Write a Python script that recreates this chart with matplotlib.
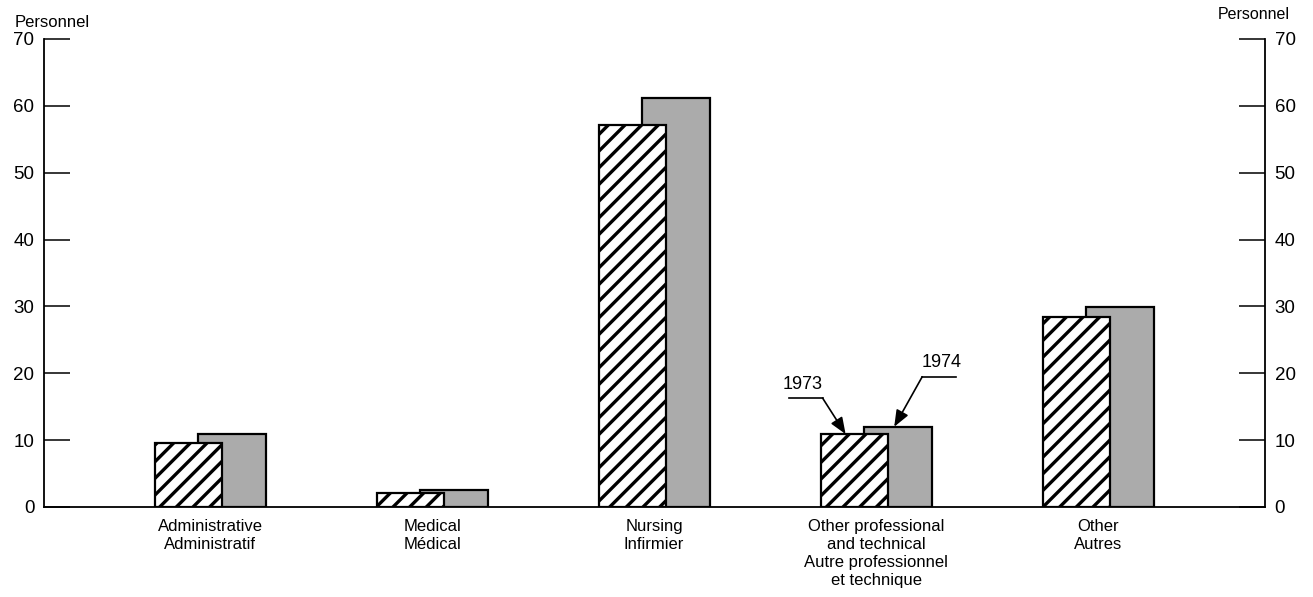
import matplotlib
matplotlib.use("Agg")
import matplotlib.pyplot as plt
import numpy as np

plt.rcParams['font.family'] = ['Liberation Sans', 'DejaVu Sans']
plt.rcParams['hatch.linewidth'] = 2.4

categories = [
    "Administrative\nAdministratif",
    "Medical\nMédical",
    "Nursing\nInfirmier",
    "Other professional\nand technical\nAutre professionnel\net technique",
    "Other\nAutres",
]
staff_1973 = [9.6, 2.1, 57.2, 10.9, 28.4]
staff_1974 = [10.9, 2.6, 61.1, 12.0, 29.9]
yticks = [0, 10, 20, 30, 40, 50, 60, 70]

fig = plt.figure(figsize=(13.13, 5.97), dpi=100)
ax = fig.add_axes([0.0335, 0.1508, 0.9299, 0.7839])

x = np.arange(len(categories))
width = 0.306
shift = 0.097

# 1974 drawn first so the hatched 1973 bar overlaps it
ax.bar(x + shift, staff_1974, width, color="#ababab", edgecolor="black",
       linewidth=1.6, zorder=2)
ax.bar(x - shift, staff_1973, width, color="white", edgecolor="black",
       hatch="//", linewidth=1.6, zorder=3)

ax.set_xlim(-0.748, 4.752)
ax.set_ylim(0, 70)
ax.set_yticks(yticks)
ax.set_xticks(x)
ax.set_xticklabels(categories, fontsize=12, linespacing=1.25)

ax.spines["top"].set_visible(False)
for side in ("left", "right", "bottom"):
    ax.spines[side].set_linewidth(1.3)

ax.tick_params(axis="x", length=0, pad=9)
ax.tick_params(axis="y", direction="in", length=18.5, width=1.1,
               labelsize=13.5, pad=7, left=True, right=True,
               labelleft=True, labelright=True)

fig.text(0.0115, 0.963, "Personnel", fontsize=12, ha="left", va="center")
fig.text(0.982, 0.975, "Personnel", fontsize=11.5, ha="right", va="center")

# year callouts on the "Other professional" group
k = 3
arrow_kw = dict(arrowstyle="-|>,head_length=1.0,head_width=0.4",
                color="black", lw=1.2, shrinkA=0, shrinkB=0)

tip73 = (k - shift - 0.04, staff_1973[k])
tip74 = (k + shift - 0.015, staff_1974[k])

ax.annotate("", xy=tip73, xytext=(-23, 36), textcoords="offset pixels",
            arrowprops=arrow_kw)
ax.annotate("1973", xy=tip73, xytext=(-43, 50), textcoords="offset pixels",
            fontsize=13, ha="center", va="center")
ax.annotate("", xy=tip74, xytext=(28, 50), textcoords="offset pixels",
            arrowprops=arrow_kw)
ax.annotate("1974", xy=tip74, xytext=(47, 64), textcoords="offset pixels",
            fontsize=13, ha="center", va="center")

# horizontal leader segments
for tip, dx0, dx1, dy in ((tip73, -57, -23, 36), (tip74, 28, 62, 50)):
    px, py = ax.transData.transform(tip)
    xs = [px + dx0, px + dx1]
    ys = [py + dy, py + dy]
    pts = ax.transData.inverted().transform(np.column_stack([xs, ys]))
    ax.plot(pts[:, 0], pts[:, 1], color="black", lw=1.2, clip_on=False)

fig.savefig("out.png", dpi=100)
